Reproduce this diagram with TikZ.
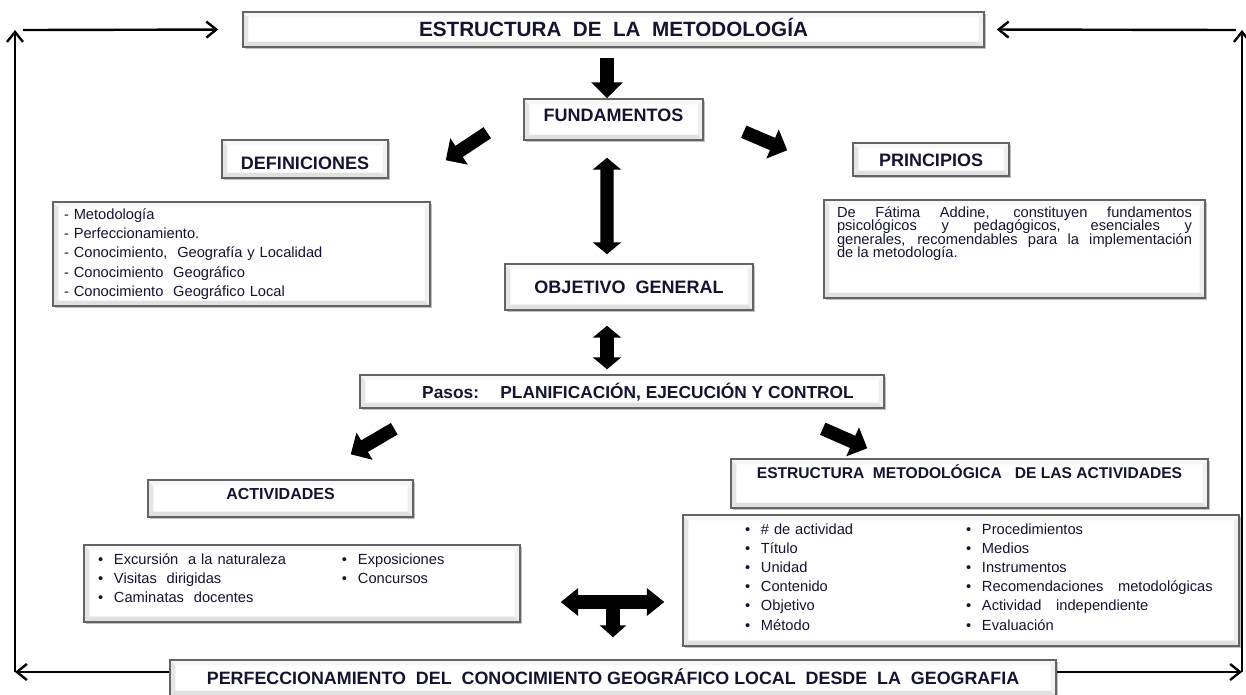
\documentclass[tikz,border=0pt]{standalone}
\usepackage{fontspec}
\setmainfont{Liberation Sans}
\usepackage{xcolor}
\usetikzlibrary{positioning,arrows.meta,shadows}

\definecolor{boxline}{RGB}{100,100,100}
\definecolor{inktext}{RGB}{20,20,48}
\newcommand{\bul}{\makebox[12pt][l]{\textbullet}}
\newcommand{\tightlines}{\lineskiplimit=-20pt\relax}

\begin{document}
\begin{tikzpicture}[
  x=0.75pt, y=-0.75pt,
  every node/.style={text=inktext},
  bevelbox/.style={draw=boxline, line width=1.1pt, fill=white, inner sep=0pt,
    drop shadow={shadow xshift=1.5pt, shadow yshift=-1.8pt, opacity=0.35, fill=black!70},
    path picture={
      \fill[black!10] (path picture bounding box.south west) -- (path picture bounding box.north west)
        -- ([shift={(4pt,-4pt)}]path picture bounding box.north west)
        -- ([shift={(4pt,4pt)}]path picture bounding box.south west) -- cycle;
      \fill[black!3] (path picture bounding box.north west) -- (path picture bounding box.north east)
        -- ([shift={(-4pt,-4pt)}]path picture bounding box.north east)
        -- ([shift={(4pt,-4pt)}]path picture bounding box.north west) -- cycle;
      \fill[black!6] (path picture bounding box.north east) -- (path picture bounding box.south east)
        -- ([shift={(-4pt,4pt)}]path picture bounding box.south east)
        -- ([shift={(-4pt,-4pt)}]path picture bounding box.north east) -- cycle;
      \fill[black!12] (path picture bounding box.south west) -- (path picture bounding box.south east)
        -- ([shift={(-4pt,4pt)}]path picture bounding box.south east)
        -- ([shift={(4pt,4pt)}]path picture bounding box.south west) -- cycle;
    }},
  headbox/.style={bevelbox, align=center, text height=10pt, text depth=0pt,
    font=\bfseries\fontsize{13.5}{16}\selectfont},
  listbox/.style={bevelbox, align=left, font=\fontsize{11}{14.25}\selectfont},
  blockarrow/.style={line width=10pt, -{Triangle[length=12pt, width=23pt]}},
  twinarrow/.style={line width=10pt, {Triangle[length=9pt, width=21pt]}-{Triangle[length=9pt, width=21pt]}},
  backarrow/.style={line width=1.8pt, -{Straight Barb[length=7.5pt, width=12pt]}}
]

\useasboundingbox (0,0) rectangle (1246,694);

%% ── Column x-positions of the return lines ───────────────────────────
\def\xL{15}     % left return line
\def\xR{1242}   % right return line

%% ── Title and fundamentals ───────────────────────────────────────────
\node[headbox, minimum width=555.75pt, minimum height=26.25pt,
      font=\bfseries\fontsize{15.5}{18}\selectfont] (title) at (613.5,29.5)
    {ESTRUCTURA\ \ DE\ \ LA\ \ METODOLOGÍA};
\node[headbox, minimum width=134.25pt, minimum height=30.75pt, text depth=7.1pt]
    (fund) at (613.5,119.5) {FUNDAMENTOS};

%% ── Definitions (left) ───────────────────────────────────────────────
\node[headbox, minimum width=124.5pt, minimum height=28.5pt, text height=15.7pt]
    (defin) at (305,159) {DEFINICIONES};
\node[listbox, text width=266.25pt, inner xsep=8.25pt, text height=12.75pt, text depth=65.25pt,
      font=\fontsize{11}{14.6}\selectfont] (defl) at (241.5,254)
    {- Metodología\\
     - Perfeccionamiento.\\
     - Conocimiento,\ \ Geografía y Localidad\\
     - Conocimiento\ \ Geográfico\\
     - Conocimiento\ \ Geográfico Local};

%% ── Principles (right) ───────────────────────────────────────────────
\node[headbox, minimum width=117pt, minimum height=24.75pt]
    (princ) at (931,159.5) {PRINCIPIOS};
\node[listbox, align=justify, text width=266.25pt, inner xsep=9.75pt, text height=13pt, text depth=60.5pt,
      font=\fontsize{11}{10}\selectfont\tightlines] (prinl) at (1014.5,249)
    {De Fátima Addine, constituyen fundamentos\linebreak
     psicológicos y pedagógicos, esenciales y\linebreak
     generales, recomendables para la implementación\linebreak
     de la metodología.};

%% ── Objective and steps ──────────────────────────────────────────────
\node[headbox, minimum width=186pt, minimum height=34.5pt]
    (obj) at (629,287) {OBJETIVO\ \ GENERAL};
\node[headbox, minimum width=393pt, minimum height=24.75pt, font=\bfseries\fontsize{13}{16}\selectfont]
    (pasos) at (622,391.5) {\hspace*{24pt}Pasos:\hspace{16pt}PLANIFICACIÓN, EJECUCIÓN Y CONTROL};

%% ── Activities (left) ────────────────────────────────────────────────
\node[headbox, minimum width=198.75pt, minimum height=27.75pt, text depth=8.2pt,
      font=\bfseries\fontsize{12}{14}\selectfont] (act) at (280.5,498.5) {ACTIVIDADES};
\node[listbox, text width=306pt, inner xsep=10.5pt, text height=14.25pt, text depth=43.5pt]
    (actl) at (302,583.5)
    {\begin{tabular}[t]{@{}p{183pt}@{}l@{}}
       \bul Excursión\ \ a la naturaleza & \bul Exposiciones\\
       \bul Visitas\ \ dirigidas         & \bul Concursos\\
       \bul Caminatas\ \ docentes        &
     \end{tabular}};

%% ── Structure of the activities (right) ──────────────────────────────
\node[headbox, minimum width=357.75pt, minimum height=36.75pt, text depth=17.4pt,
      font=\bfseries\fontsize{11.7}{14}\selectfont] (strtit) at (969.5,483.5)
    {ESTRUCTURA\ \ METODOLÓGICA\ \ \ DE LAS ACTIVIDADES};
\node[listbox, text width=390pt, inner xsep=13.5pt, text height=14.25pt, text depth=84pt,
      font=\fontsize{11}{14.4}\selectfont] (strl) at (961,580.5)
    {\begin{tabular}[t]{@{\hspace{33pt}}p{165.75pt}@{}l@{}}
       \bul\# de actividad & \bul Procedimientos\\
       \bul Título         & \bul Medios\\
       \bul Unidad         & \bul Instrumentos\\
       \bul Contenido      & \bul Recomendaciones\ \ \ metodológicas\\
       \bul Objetivo       & \bul Actividad\ \ \ independiente\\
       \bul Método         & \bul Evaluación
     \end{tabular}};

%% ── Bottom goal ──────────────────────────────────────────────────────
\node[headbox, minimum width=664.5pt, minimum height=27pt, font=\bfseries\fontsize{13.4}{16}\selectfont]
    (perf) at (613,678)
    {PERFECCIONAMIENTO\ \ DEL\ \ CONOCIMIENTO GEOGRÁFICO LOCAL\ \ DESDE\ \ LA\ \ GEOGRAFIA};

%% ── Block arrows between the boxes ───────────────────────────────────
\draw[blockarrow] ([xshift=-4.9pt, yshift=-7.5pt]title.south) -- ([xshift=-4.9pt]fund.north);
\draw[blockarrow] ([xshift=-27pt, yshift=6pt]fund.south west) -- ([xshift=42.75pt, yshift=-15.75pt]defin.north east);
\draw[blockarrow] ([xshift=30pt, yshift=6.75pt]fund.south east) -- ([xshift=-48.75pt, yshift=-6pt]princ.north west);
\draw[twinarrow] ([xshift=-4.9pt, yshift=-12.75pt]fund.south) -- ([xshift=-16.5pt, yshift=6.75pt]obj.north);
\draw[twinarrow] ([xshift=-16.5pt, yshift=-11.25pt]obj.south) -- ([xshift=-11.25pt, yshift=3.75pt]pasos.north);
\draw[blockarrow] ([xshift=26.25pt, yshift=-15pt]pasos.south west) -- ([xshift=-47.25pt, yshift=18.75pt]act.north east);
\draw[blockarrow] ([xshift=-46.5pt, yshift=-15pt]pasos.south east) -- ([xshift=102.75pt, yshift=7.5pt]strtit.north west);

%% ── T-shaped arrow above the goal ────────────────────────────────────
\coordinate (tee) at (613,602);
\draw[twinarrow, {Triangle[length=13pt, width=20pt]}-{Triangle[length=13pt, width=20pt]}]
    ([xshift=30pt]actl.east |- tee) -- ([xshift=-13.5pt]strl.west |- tee);
\draw[blockarrow, -{Triangle[length=9pt, width=19.5pt]}] (tee) -- ([yshift=16.5pt]perf.north);

%% ── Return lines back to the title ───────────────────────────────────
\coordinate (lbot) at (\xL,672);
\coordinate (ltop) at (\xL,30);
\coordinate (rbot) at (\xR,672);
\coordinate (rtop) at (\xR,30);
\draw[backarrow] ([yshift=4.5pt]perf.west) -- (lbot);
\draw[backarrow] (lbot) -- (ltop);
\draw[backarrow, shorten >=18pt] ([xshift=6pt]ltop) -- (title.west);
\draw[backarrow] ([yshift=4.5pt]perf.east) -- (rbot);
\draw[backarrow] (rbot) -- (rtop);
\draw[backarrow, shorten >=9pt] ([xshift=-4.5pt]rtop) -- (title.east);

\end{tikzpicture}
\end{document}
